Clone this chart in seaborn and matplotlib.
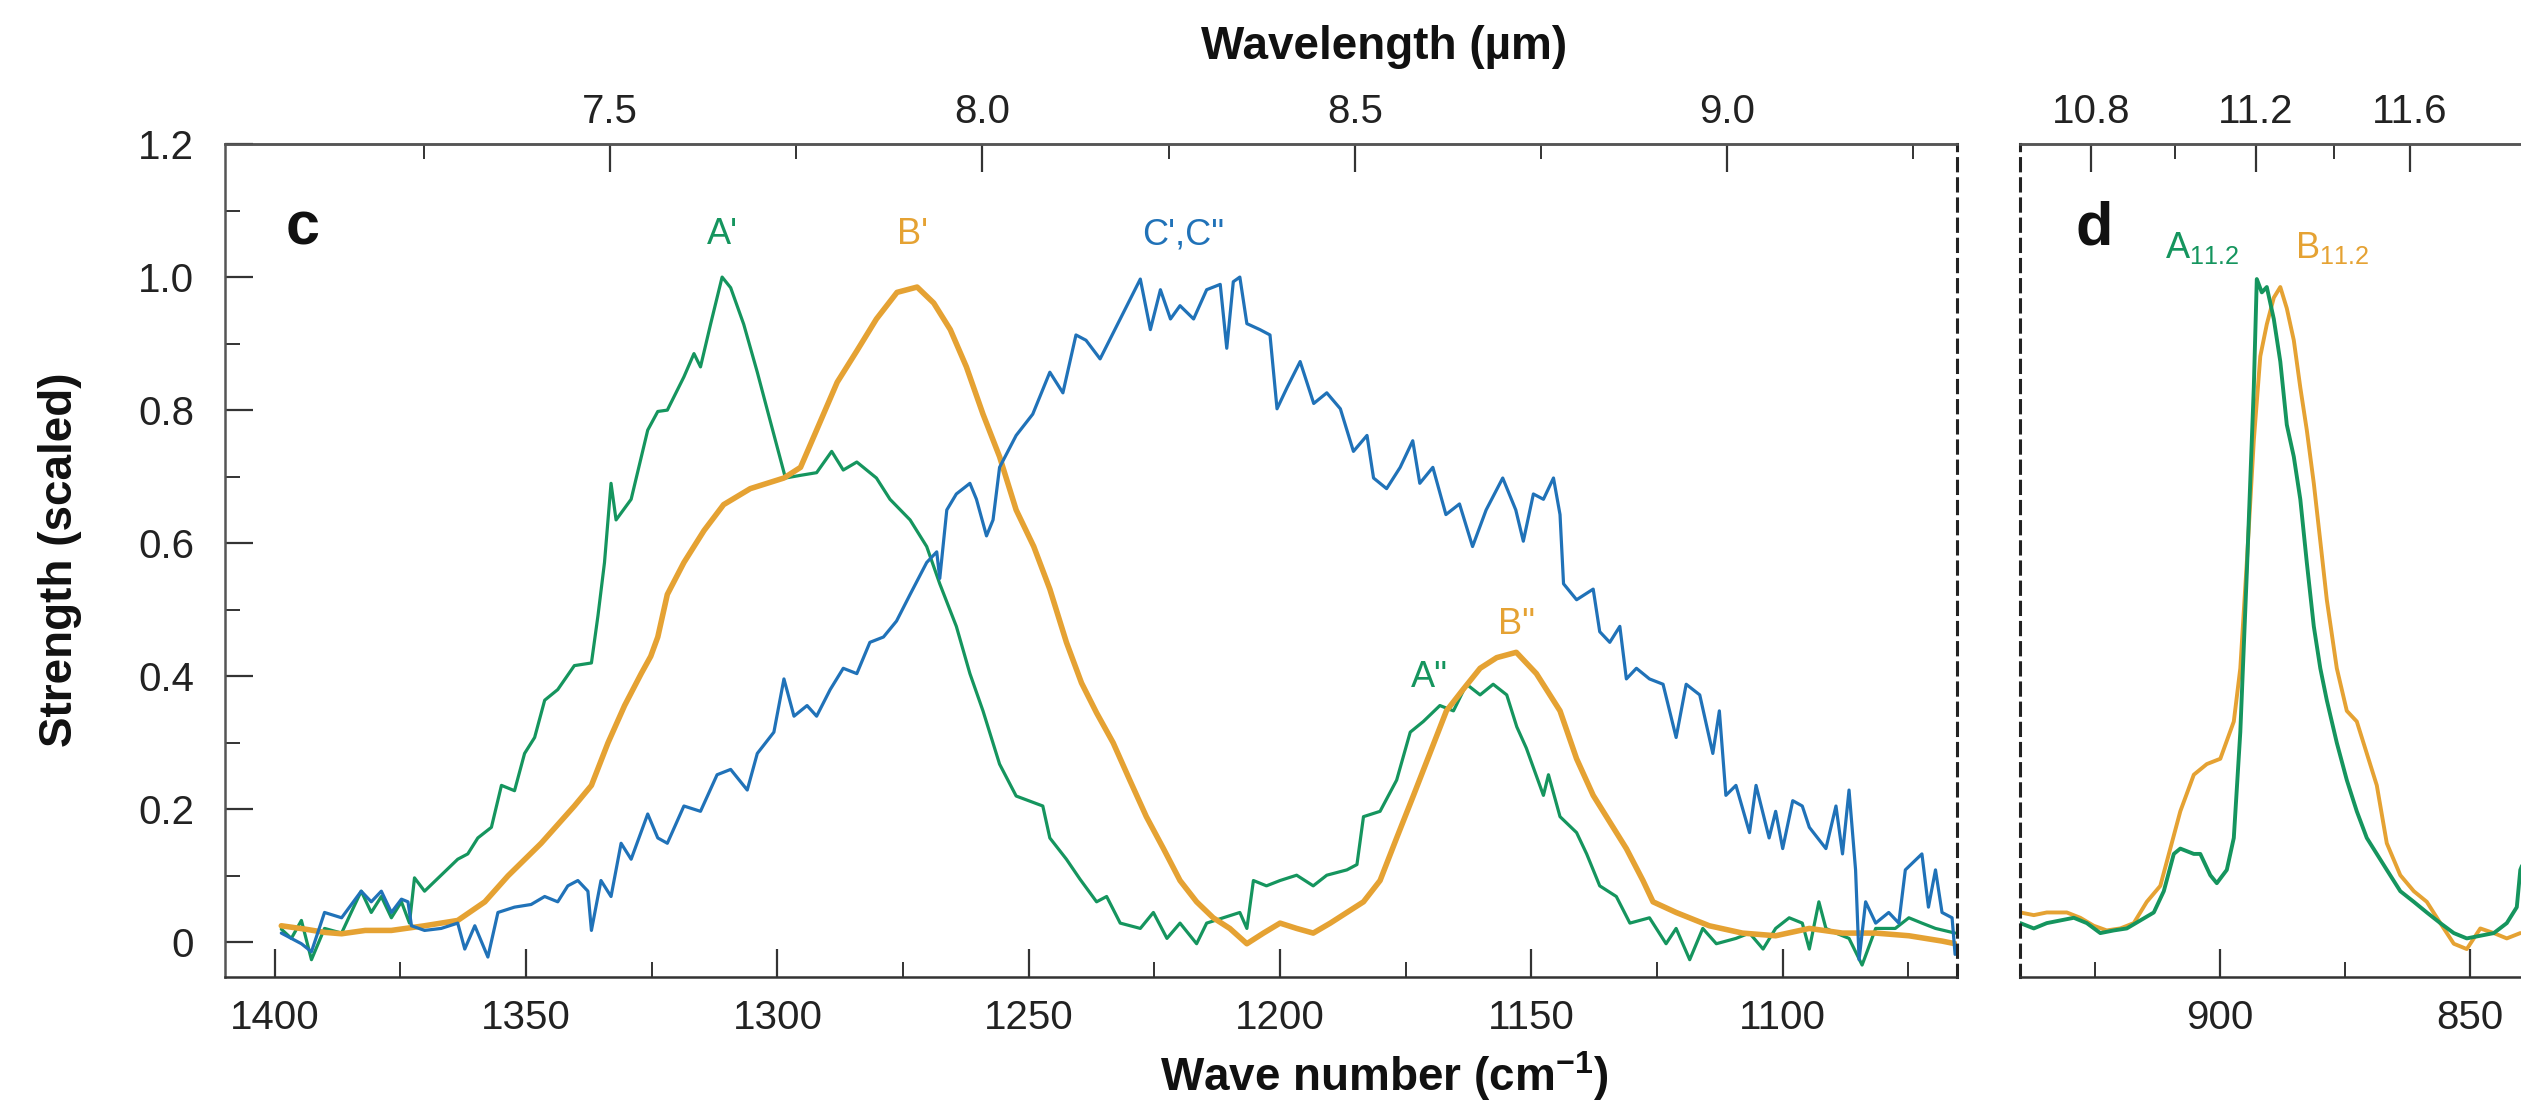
import numpy as np
import pandas as pd
import matplotlib
matplotlib.use("Agg")
import matplotlib.pyplot as plt
import seaborn as sns
from matplotlib.ticker import FixedLocator, FuncFormatter

# ---------------- data ----------------
# Panel c : wave number (cm-1) and scaled strength
green_c_wn = [1398.7, 1396.7, 1394.7, 1392.7, 1390.1, 1386.7, 1384.8, 1382.8, 1380.8, 1378.8, 1376.8, 1374.8,
              1373.2, 1372.2, 1370.2, 1366.9, 1363.6, 1361.6, 1359.6, 1356.9, 1354.9, 1352.3, 1350.3, 1348.3,
              1346.3, 1343.7, 1340.4, 1337.0, 1335.7, 1334.4, 1333.1, 1332.1, 1329.1, 1325.8, 1323.8, 1321.9,
              1318.6, 1316.6, 1315.3, 1313.3, 1311.0, 1309.3, 1306.7, 1304.0, 1302.0, 1300.1, 1298.4, 1295.4,
              1292.2, 1289.2, 1286.9, 1284.2, 1280.3, 1277.6, 1273.6, 1270.3, 1267.7, 1264.4, 1261.7, 1259.1,
              1255.8, 1252.5, 1247.2, 1245.8, 1242.5, 1239.8, 1236.5, 1234.5, 1231.8, 1227.8, 1225.2, 1222.5,
              1219.9, 1216.6, 1214.6, 1211.3, 1208.0, 1206.6, 1205.3, 1202.7, 1200.0, 1196.7, 1193.4, 1190.7,
              1186.7, 1184.7, 1183.4, 1180.1, 1176.8, 1174.1, 1171.5, 1168.2, 1165.5, 1162.9, 1160.2, 1157.6,
              1154.9, 1152.9, 1151.0, 1147.6, 1146.6, 1144.3, 1141.0, 1139.0, 1136.4, 1133.1, 1130.4, 1126.5,
              1123.2, 1121.2, 1118.5, 1115.9, 1113.2, 1109.3, 1106.6, 1103.9, 1101.4, 1098.7, 1096.1, 1094.7,
              1092.8, 1091.4, 1089.4, 1086.8, 1084.2, 1081.5, 1077.6, 1074.9, 1072.3, 1069.6, 1065.7]
green_c_val = [0.020, 0.006, 0.033, -0.026, 0.021, 0.014, 0.045, 0.077, 0.045, 0.069, 0.037, 0.061,
               0.029, 0.097, 0.077, 0.101, 0.125, 0.133, 0.157, 0.173, 0.236, 0.228, 0.284, 0.308,
               0.364, 0.380, 0.416, 0.420, 0.491, 0.571, 0.690, 0.635, 0.666, 0.770, 0.798, 0.800,
               0.850, 0.885, 0.865, 0.929, 1.000, 0.984, 0.929, 0.857, 0.800, 0.746, 0.698, 0.702,
               0.706, 0.738, 0.710, 0.722, 0.698, 0.666, 0.635, 0.595, 0.539, 0.475, 0.404, 0.348,
               0.268, 0.220, 0.205, 0.157, 0.125, 0.095, 0.061, 0.069, 0.029, 0.021, 0.045, 0.006,
               0.029, -0.002, 0.029, 0.037, 0.045, 0.021, 0.093, 0.085, 0.093, 0.101, 0.085, 0.101,
               0.109, 0.117, 0.189, 0.197, 0.244, 0.316, 0.332, 0.356, 0.348, 0.388, 0.372, 0.388,
               0.372, 0.324, 0.292, 0.221, 0.252, 0.189, 0.165, 0.133, 0.085, 0.069, 0.029, 0.037,
               -0.002, 0.021, -0.026, 0.021, -0.002, 0.006, 0.014, -0.010, 0.021, 0.037, 0.029, -0.010,
               0.061, 0.021, 0.014, 0.006, -0.034, 0.021, 0.021, 0.037, 0.029, 0.021, 0.014]

orange_c_wn = [1398.7, 1394.0, 1390.0, 1386.7, 1382.0, 1376.8, 1370.2, 1363.6, 1358.2, 1353.6, 1347.0, 1340.4,
               1337.0, 1333.7, 1330.4, 1327.1, 1325.2, 1323.8, 1321.9, 1318.6, 1314.6, 1310.7, 1305.4, 1298.7,
               1295.4, 1292.2, 1288.1, 1284.2, 1280.3, 1276.2, 1272.2, 1268.9, 1265.6, 1262.4, 1259.1, 1255.8,
               1252.5, 1249.0, 1245.8, 1242.5, 1239.5, 1236.5, 1233.2, 1229.9, 1226.6, 1223.2, 1219.9, 1216.6,
               1213.3, 1210.0, 1206.6, 1203.3, 1200.0, 1196.7, 1193.4, 1190.0, 1186.7, 1183.4, 1180.1, 1176.8,
               1173.5, 1170.2, 1166.9, 1163.6, 1160.2, 1156.9, 1153.0, 1149.0, 1144.3, 1141.0, 1137.7, 1134.4,
               1131.1, 1127.8, 1125.8, 1121.2, 1114.6, 1108.0, 1101.4, 1094.7, 1088.1, 1081.5, 1074.9, 1068.3,
               1065.7]
orange_c_val = [0.025, 0.020, 0.015, 0.013, 0.018, 0.018, 0.025, 0.033, 0.061, 0.100, 0.149, 0.205,
                0.236, 0.300, 0.356, 0.404, 0.430, 0.459, 0.523, 0.571, 0.619, 0.658, 0.682, 0.698,
                0.714, 0.770, 0.842, 0.889, 0.937, 0.977, 0.985, 0.961, 0.921, 0.865, 0.794, 0.730,
                0.650, 0.595, 0.531, 0.451, 0.390, 0.345, 0.300, 0.244, 0.189, 0.141, 0.093, 0.061,
                0.037, 0.021, -0.002, 0.014, 0.029, 0.021, 0.014, 0.029, 0.045, 0.061, 0.093, 0.157,
                0.220, 0.284, 0.348, 0.380, 0.412, 0.428, 0.436, 0.404, 0.348, 0.276, 0.221, 0.181,
                0.141, 0.093, 0.061, 0.045, 0.025, 0.014, 0.010, 0.021, 0.014, 0.014, 0.010, 0.002,
                -0.002]

blue_c_wn = [1398.7, 1394.7, 1392.7, 1390.1, 1386.7, 1382.8, 1380.8, 1378.8, 1376.8, 1374.8, 1373.5, 1372.8,
             1370.2, 1366.9, 1363.6, 1362.2, 1360.2, 1357.6, 1355.6, 1352.3, 1349.0, 1346.3, 1343.7, 1341.7,
             1339.7, 1337.7, 1337.0, 1335.1, 1333.1, 1331.1, 1329.1, 1325.8, 1323.8, 1321.9, 1318.6, 1315.3,
             1312.0, 1309.3, 1306.0, 1304.0, 1300.7, 1298.7, 1296.7, 1294.1, 1292.2, 1289.5, 1286.9, 1284.2,
             1281.6, 1278.9, 1276.3, 1273.6, 1270.3, 1268.3, 1267.7, 1266.3, 1264.4, 1261.7, 1260.4, 1258.4,
             1257.1, 1255.8, 1252.5, 1249.2, 1245.8, 1243.2, 1240.6, 1238.6, 1235.8, 1231.8, 1227.8, 1225.8,
             1223.8, 1221.8, 1219.9, 1217.2, 1214.6, 1211.9, 1210.6, 1209.3, 1208.0, 1206.6, 1204.0, 1202.0,
             1200.6, 1198.6, 1196.0, 1193.3, 1190.7, 1188.0, 1185.4, 1182.7, 1181.4, 1178.8, 1176.1, 1173.6,
             1172.2, 1169.6, 1167.0, 1164.3, 1161.7, 1159.0, 1155.7, 1153.1, 1151.6, 1149.6, 1147.6, 1145.6,
             1144.3, 1143.6, 1141.0, 1137.7, 1136.4, 1134.4, 1132.4, 1131.1, 1129.1, 1126.5, 1123.8, 1121.2,
             1119.2, 1116.5, 1113.9, 1112.6, 1111.3, 1109.3, 1106.6, 1105.3, 1102.7, 1101.4, 1100.0, 1098.0,
             1096.1, 1094.7, 1091.4, 1089.4, 1088.1, 1086.8, 1085.5, 1084.8, 1083.5, 1081.5, 1078.9, 1076.9,
             1075.6, 1072.3, 1071.0, 1069.6, 1068.3, 1066.3, 1065.7]
blue_c_val = [0.014, -0.002, -0.014, 0.045, 0.037, 0.077, 0.061, 0.077, 0.045, 0.065, 0.061, 0.025,
              0.018, 0.021, 0.029, -0.010, 0.025, -0.022, 0.045, 0.053, 0.057, 0.069, 0.061, 0.085,
              0.093, 0.077, 0.018, 0.093, 0.069, 0.149, 0.125, 0.193, 0.157, 0.149, 0.205, 0.197,
              0.252, 0.260, 0.229, 0.284, 0.316, 0.396, 0.340, 0.356, 0.340, 0.380, 0.412, 0.404,
              0.451, 0.459, 0.483, 0.523, 0.571, 0.587, 0.547, 0.650, 0.674, 0.690, 0.666, 0.611,
              0.635, 0.714, 0.762, 0.794, 0.857, 0.826, 0.913, 0.905, 0.877, 0.937, 0.997, 0.921,
              0.981, 0.937, 0.957, 0.937, 0.981, 0.989, 0.893, 0.993, 1.000, 0.930, 0.921, 0.913,
              0.802, 0.834, 0.873, 0.810, 0.826, 0.802, 0.738, 0.762, 0.698, 0.682, 0.714, 0.754,
              0.690, 0.714, 0.643, 0.659, 0.595, 0.650, 0.698, 0.650, 0.603, 0.674, 0.666, 0.698,
              0.643, 0.539, 0.515, 0.531, 0.467, 0.451, 0.475, 0.396, 0.412, 0.396, 0.388, 0.308,
              0.388, 0.372, 0.284, 0.348, 0.221, 0.236, 0.165, 0.236, 0.157, 0.197, 0.141, 0.213,
              0.205, 0.173, 0.141, 0.205, 0.133, 0.229, 0.109, -0.026, 0.061, 0.029, 0.045, 0.029,
              0.109, 0.133, 0.053, 0.109, 0.045, 0.037, -0.018]

# Panel d
green_d_wn = [940.0, 937.3, 934.7, 932.0, 929.3, 926.7, 924.0, 921.3, 918.7, 916.0, 913.3, 911.3, 909.3,
              908.0, 905.3, 904.0, 902.0, 900.7, 898.7, 897.3, 896.0, 894.7, 893.3, 892.7, 891.7, 890.7,
              889.3, 888.0, 886.7, 885.3, 884.0, 882.7, 881.3, 880.0, 878.7, 876.7, 874.7, 872.7, 870.7,
              868.7, 866.7, 864.0, 861.3, 858.7, 856.0, 853.3, 850.7, 848.0, 845.3, 842.7, 840.7, 840.0, 839.4]
green_d_val = [0.029, 0.021, 0.029, 0.033, 0.037, 0.029, 0.014, 0.018, 0.021, 0.033, 0.045, 0.077, 0.133,
               0.141, 0.133, 0.133, 0.101, 0.089, 0.109, 0.157, 0.316, 0.555, 0.834, 0.997, 0.977, 0.985,
               0.937, 0.873, 0.778, 0.730, 0.666, 0.571, 0.475, 0.412, 0.364, 0.300, 0.244, 0.197, 0.157,
               0.133, 0.109, 0.077, 0.061, 0.045, 0.029, 0.014, 0.006, 0.010, 0.014, 0.029, 0.053, 0.109, 0.120]

orange_d_wn = [940.0, 937.3, 934.7, 930.7, 928.0, 925.3, 922.7, 920.0, 917.3, 914.7, 912.0, 910.0, 908.0,
               905.3, 902.7, 900.0, 897.3, 896.0, 894.7, 893.3, 892.0, 890.7, 889.3, 888.0, 886.7, 885.3,
               884.0, 882.7, 881.3, 880.0, 878.7, 876.7, 874.7, 872.7, 870.7, 868.7, 866.7, 864.0, 861.3,
               858.7, 856.0, 853.3, 850.7, 848.0, 845.3, 842.7, 840.0]
orange_d_val = [0.045, 0.041, 0.045, 0.045, 0.037, 0.025, 0.018, 0.021, 0.029, 0.061, 0.085, 0.141, 0.197,
                0.252, 0.268, 0.276, 0.332, 0.412, 0.571, 0.754, 0.881, 0.929, 0.969, 0.985, 0.953, 0.905,
                0.834, 0.770, 0.690, 0.603, 0.515, 0.412, 0.348, 0.332, 0.284, 0.236, 0.149, 0.101, 0.077,
                0.061, 0.029, -0.002, -0.010, 0.021, 0.014, 0.006, 0.014]

# Axis tick values
c_xticks = [1400, 1350, 1300, 1250, 1200, 1150, 1100]
c_xminor = [1375, 1325, 1275, 1225, 1175, 1125, 1075]
d_xticks = [900, 850]
d_xminor = [925, 875]
yticks = [0, 0.2, 0.4, 0.6, 0.8, 1.0, 1.2]
yminor = [0.1, 0.3, 0.5, 0.7, 0.9, 1.1]
c_top_ticks = [7.5, 8.0, 8.5, 9.0]
c_top_minor = [7.25, 7.75, 8.25, 8.75, 9.25]
d_top_ticks = [10.8, 11.2, 11.6]
d_top_minor = [11.0, 11.4]

GREEN = "#15955e"
ORANGE = "#e5a233"
BLUE = "#2072b8"

# ---------------- style ----------------
sns.set_theme(style="white")
plt.rcParams["font.family"] = ["Liberation Sans", "DejaVu Sans"]
plt.rcParams["mathtext.default"] = "regular"

fig = plt.figure(figsize=(25.21, 11.02), dpi=100)
ax_c = fig.add_axes([224.5 / 2521, 125 / 1102, (1956.6 - 224.5) / 2521, 833 / 1102])
ax_d = fig.add_axes([2020.3 / 2521, 125 / 1102, 550 / 2521, 833 / 1102])

df_c = pd.concat([
    pd.DataFrame({"wn": green_c_wn, "s": green_c_val, "band": "A"}),
    pd.DataFrame({"wn": orange_c_wn, "s": orange_c_val, "band": "B"}),
    pd.DataFrame({"wn": blue_c_wn, "s": blue_c_val, "band": "C"}),
])
sns.lineplot(data=df_c[df_c.band == "A"], x="wn", y="s", ax=ax_c, color=GREEN, lw=2.3, estimator=None)
sns.lineplot(data=df_c[df_c.band == "B"], x="wn", y="s", ax=ax_c, color=ORANGE, lw=4.0, estimator=None)
sns.lineplot(data=df_c[df_c.band == "C"], x="wn", y="s", ax=ax_c, color=BLUE, lw=2.3, estimator=None)

sns.lineplot(x=orange_d_wn, y=orange_d_val, ax=ax_d, color=ORANGE, lw=2.8, estimator=None)
sns.lineplot(x=green_d_wn, y=green_d_val, ax=ax_d, color=GREEN, lw=2.8, estimator=None)

for ax in (ax_c, ax_d):
    ax.set_ylim(-0.052, 1.2)
    ax.set_xlabel("")
    ax.set_ylabel("")
    ax.tick_params(which="major", direction="in", length=20, width=1.6, color="#333333",
                   labelsize=29, labelcolor="#222222")
    ax.tick_params(which="minor", direction="in", length=11, width=1.4, color="#333333")
    for sp in ax.spines.values():
        sp.set_color("#555555")
        sp.set_linewidth(1.8)
    ax.spines["bottom"].set_color("#333333")

ax_c.set_xlim(1410, 1065.4)
ax_d.set_xlim(940, 830)

# panel c ticks
ax_c.xaxis.set_major_locator(FixedLocator(c_xticks))
ax_c.xaxis.set_minor_locator(FixedLocator(c_xminor))
ax_c.xaxis.set_major_formatter(FuncFormatter(lambda v, p: f"{v:.0f}"))
ax_c.yaxis.set_major_locator(FixedLocator(yticks))
ax_c.yaxis.set_minor_locator(FixedLocator(yminor))
ax_c.yaxis.set_major_formatter(FuncFormatter(lambda v, p: "0" if abs(v) < 1e-9 else f"{v:.1f}"))
ax_c.tick_params(axis="y", which="both", left=True, right=False, pad=22)
ax_c.tick_params(axis="x", which="both", bottom=True, top=False, pad=16)
ax_c.spines["right"].set_linestyle((0, (4, 2.6)))
ax_c.spines["right"].set_color("#222222")
ax_c.spines["right"].set_linewidth(2.2)

# panel d ticks
ax_d.xaxis.set_major_locator(FixedLocator(d_xticks))
ax_d.xaxis.set_minor_locator(FixedLocator(d_xminor))
ax_d.xaxis.set_major_formatter(FuncFormatter(lambda v, p: f"{v:.0f}"))
ax_d.tick_params(axis="x", which="both", bottom=True, top=False, pad=16)
ax_d.tick_params(axis="y", which="both", left=False, right=False, labelleft=False)
ax_d.spines["left"].set_linestyle((0, (4, 2.6)))
ax_d.spines["left"].set_color("#222222")
ax_d.spines["left"].set_linewidth(2.2)
ax_d.spines["right"].set_visible(False)

# top wavelength axes
LA, LB = 2444.4, 148.15
top_c = ax_c.secondary_xaxis("top", functions=(lambda w: (LA - w) / LB, lambda l: LA - LB * l))
top_c.xaxis.set_major_locator(FixedLocator(c_top_ticks))
top_c.xaxis.set_minor_locator(FixedLocator(c_top_minor))
top_d = ax_d.secondary_xaxis("top", functions=(lambda w: 1e4 / w, lambda l: 1e4 / l))
top_d.xaxis.set_major_locator(FixedLocator(d_top_ticks))
top_d.xaxis.set_minor_locator(FixedLocator(d_top_minor))
for t in (top_c, top_d):
    t.xaxis.set_major_formatter(FuncFormatter(lambda v, p: f"{v:.1f}"))
    t.tick_params(which="major", direction="in", length=20, width=1.6, color="#333333",
                  labelsize=29, labelcolor="#222222", pad=9)
    t.tick_params(which="minor", direction="in", length=11, width=1.4, color="#333333")
    t.spines["top"].set_color("#555555")
    t.spines["top"].set_linewidth(1.8)

# annotations
ax_c.text(1394.4, 1.049, "c", fontsize=44, fontweight="bold", ha="center", va="baseline", color="#111111")
ax_d.text(925.3, 1.049, "d", fontsize=44, fontweight="bold", ha="center", va="baseline", color="#111111")
ax_c.text(1311.0, 1.049, "A'", color=GREEN, fontsize=26, ha="center", va="baseline")
ax_c.text(1273.2, 1.049, "B'", color=ORANGE, fontsize=26, ha="center", va="baseline")
ax_c.text(1219.2, 1.049, "C',C\"", color=BLUE, fontsize=26, ha="center", va="baseline")
ax_c.text(1170.2, 0.384, "A\"", color=GREEN, fontsize=26, ha="center", va="baseline")
ax_c.text(1153.0, 0.464, "B\"", color=ORANGE, fontsize=26, ha="center", va="baseline")
ax_d.text(903.7, 1.029, r"A$_{11.2}$", color=GREEN, fontsize=26, ha="center", va="baseline")
ax_d.text(877.7, 1.029, r"B$_{11.2}$", color=ORANGE, fontsize=26, ha="center", va="baseline")

# axis titles
fig.text(1384 / 2521, 1 - 47 / 1102, "Wavelength (µm)", fontsize=33, fontweight="bold",
         ha="center", va="center", color="#111111")
fig.text(1384 / 2521, 1 - 1076 / 1102, r"Wave number (cm$^{-1}$)", fontsize=33, fontweight="bold",
         ha="center", va="center", color="#111111")
fig.text(60 / 2521, 1 - 560 / 1102, "Strength (scaled)", fontsize=33, fontweight="bold",
         ha="center", va="center", rotation=90, color="#111111")

fig.savefig("out.png", dpi=100, facecolor="white")
